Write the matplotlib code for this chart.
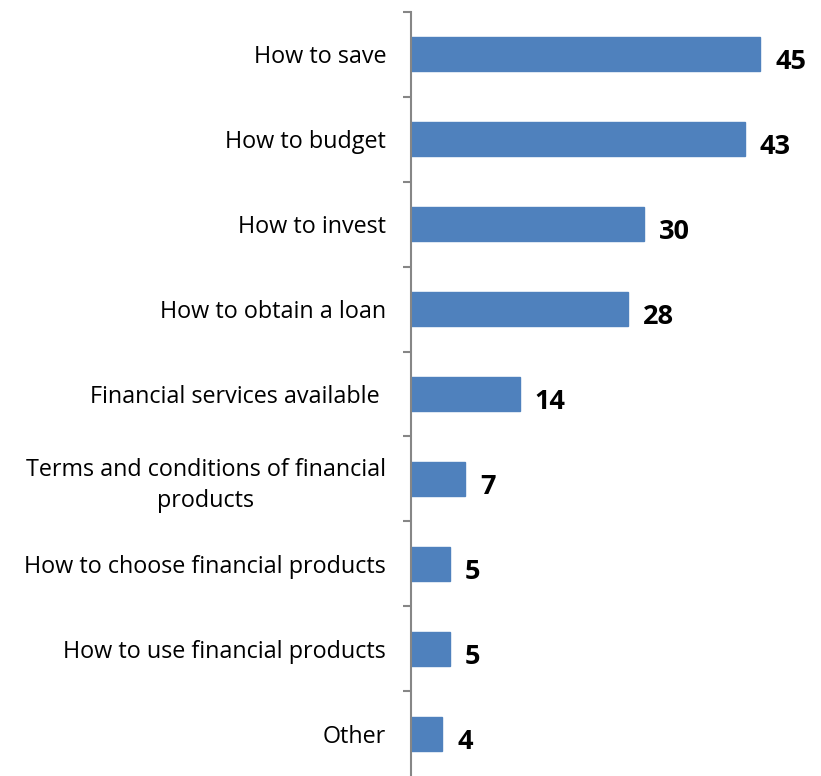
import matplotlib.pyplot as plt
import numpy as np
from matplotlib.ticker import FixedLocator, NullFormatter

# Topics on which respondents want financial education (%)
topics = ['How to save', 'How to budget', 'How to invest', 'How to obtain a loan',
          'Financial services available ', 'Terms and conditions of financial\nproducts',
          'How to choose financial products', 'How to use financial products', 'Other']
shares = [45, 43, 30, 28, 14, 7, 5, 5, 4]

plt.rcParams['font.family'] = ['Open Sans', 'DejaVu Sans']

fig = plt.figure(figsize=(8.21, 7.76), dpi=100)
ax = fig.add_axes([411/821, 0, 388/821, 1 - 12/776])

y = np.arange(len(topics))
ax.barh(y, shares, height=0.4, color='#4f81bd', edgecolor='#4f81bd')
ax.set_xlim(0, 50)
ax.set_ylim(len(topics) - 0.5, -0.5)

# value labels next to each bar
for yi, v in zip(y, shares):
    ax.annotate(str(v), (v, yi), xytext=(15, -8), textcoords='offset pixels',
                ha='left', va='center', fontsize=19.5, fontweight='bold', color='black')

for side in ['top', 'right', 'bottom']:
    ax.spines[side].set_visible(False)
ax.spines['left'].set_color('#868686')
ax.spines['left'].set_linewidth(1.5)

ax.set_xticks([])
ax.set_yticks(y)
ax.set_yticklabels(topics, fontsize=16.8, multialignment='center', linespacing=1.4)
ax.tick_params(axis='y', which='major', length=0, pad=18)
ax.yaxis.set_minor_locator(FixedLocator(np.arange(len(topics)) - 0.5))
ax.yaxis.set_minor_formatter(NullFormatter())
ax.tick_params(axis='y', which='minor', length=6, width=1.5, color='#868686')

fig.savefig('out.png', dpi=100)
